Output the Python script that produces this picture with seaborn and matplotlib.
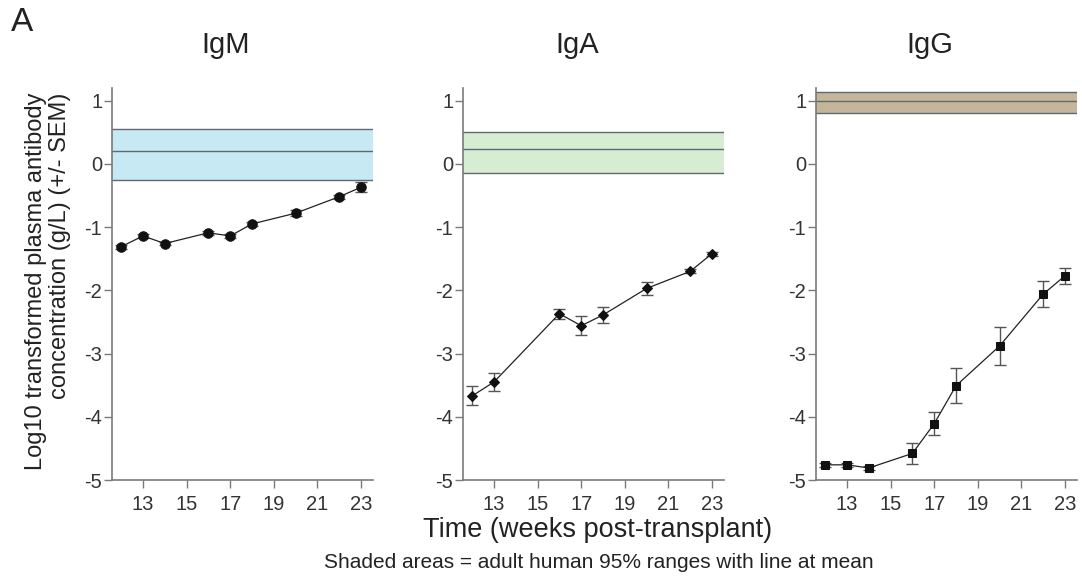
import numpy as np
import pandas as pd
import matplotlib
matplotlib.use("Agg")
import matplotlib.pyplot as plt
import seaborn as sns

sns.set_theme(style="ticks")
plt.rcParams['font.family'] = ['Liberation Sans', 'DejaVu Sans']
plt.rcParams['axes.unicode_minus'] = False

# ---- data ----
weeks = [12, 13, 14, 16, 17, 18, 20, 22, 23]
igm_mean = [-1.31, -1.14, -1.26, -1.09, -1.14, -0.95, -0.78, -0.52, -0.37]
igm_sem = [0.03, 0.03, 0.03, 0.03, 0.03, 0.03, 0.05, 0.03, 0.08]
iga_weeks = [12, 13, 16, 17, 18, 20, 22, 23]
iga_mean = [-3.67, -3.45, -2.37, -2.56, -2.39, -1.97, -1.70, -1.42]
iga_sem = [0.15, 0.15, 0.08, 0.15, 0.13, 0.10, 0.03, 0.03]
igg_mean = [-4.76, -4.76, -4.81, -4.58, -4.11, -3.51, -2.88, -2.06, -1.77]
igg_sem = [0.03, 0.03, 0.03, 0.17, 0.18, 0.28, 0.30, 0.20, 0.13]

panels = ["IgM", "IgA", "IgG"]
band_low = [-0.25, -0.15, 0.81]
band_mean = [0.20, 0.23, 1.00]
band_high = [0.55, 0.50, 1.13]
band_colors = ["#c6e9f4", "#d6edd3", "#c4b59b"]
markers = ["o", "D", "s"]
marker_sizes = [6.8, 5.5, 6.2]
xticks = [13, 15, 17, 19, 21, 23]
yticks = [-5, -4, -3, -2, -1, 0, 1]

series = [
    (weeks, igm_mean, igm_sem),
    (iga_weeks, iga_mean, iga_sem),
    (weeks, igg_mean, igg_sem),
]

fig = plt.figure(figsize=(10.82, 5.8), dpi=100)
lefts = [112 / 1082, 463 / 1082, 816 / 1082]
width = 261 / 1082
bottom = 1 - 480 / 580
height = (480 - 88) / 580

spine_col = "#7a7a7a"
for i, name in enumerate(panels):
    ax = fig.add_axes([lefts[i], bottom, width, height])
    x, m, s = series[i]
    df = pd.DataFrame({"week": x, "value": m})
    # reference band
    ax.axhspan(band_low[i], band_high[i], color=band_colors[i], lw=0, zorder=0)
    for yv in (band_low[i], band_mean[i], band_high[i]):
        ax.axhline(yv, color="#5f6a6e", lw=1.0, zorder=1)
    ax.errorbar(x, m, yerr=s, fmt="none", ecolor="#555555", elinewidth=1.0,
                capsize=4, capthick=1.0, zorder=2)
    sns.lineplot(data=df, x="week", y="value", ax=ax, color="#222222",
                 lw=0.9, marker=markers[i], markersize=marker_sizes[i],
                 markeredgecolor="#111111", markerfacecolor="#111111", zorder=3)
    ax.set_xlim(11.58, 23.55)
    ax.set_ylim(-5, 1.2)
    ax.set_xticks(xticks)
    ax.set_yticks(yticks)
    ax.set_xlabel("")
    ax.set_ylabel("")
    for side in ("top", "right"):
        ax.spines[side].set_visible(False)
    for side in ("left", "bottom"):
        ax.spines[side].set_color(spine_col)
        ax.spines[side].set_linewidth(1.2)
    ax.tick_params(axis="both", direction="out", length=5.5, width=1.0,
                   color=spine_col, labelsize=14.5, labelcolor="#333333")
    ax.tick_params(axis="x", pad=5)
    ax.tick_params(axis="y", pad=1.5)
    ax.text(0.437, 1.11, name, transform=ax.transAxes, ha="center",
            va="center", fontsize=21, color="#222222")

fig.text(0.010, 0.962, "A", fontsize=24, ha="left", va="center", color="#222222")
fig.text(48 / 1082, 1 - 93 / 580,
         "Log10 transformed plasma antibody\nconcentration (g/L) (+/- SEM)",
         rotation=90, ha="center", va="top", multialignment="right",
         fontsize=17, color="#222222", linespacing=1.15)
fig.text(598 / 1082, 1 - 530 / 580, "Time (weeks post-transplant)",
         ha="center", va="center", fontsize=19.5, color="#222222")
fig.text(599 / 1082, 1 - 563 / 580,
         "Shaded areas = adult human 95% ranges with line at mean",
         ha="center", va="center", fontsize=15, color="#222222")

fig.savefig("out.png", dpi=100)
